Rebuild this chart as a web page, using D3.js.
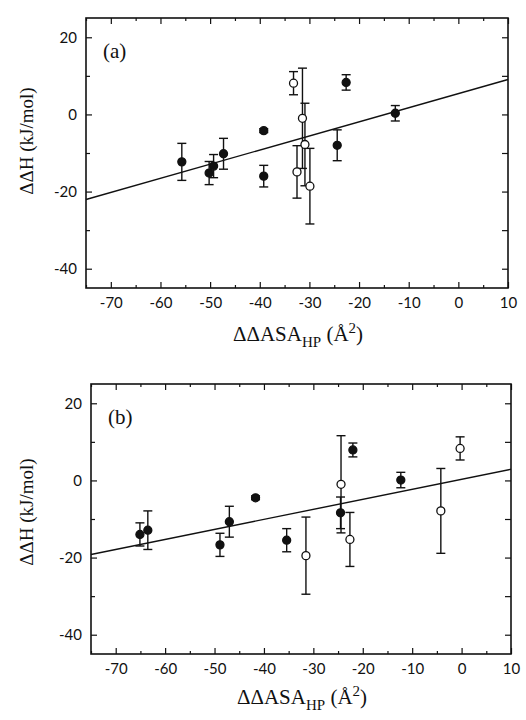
<!DOCTYPE html>
<html>
<head>
<meta charset="utf-8">
<script src="https://cdn.jsdelivr.net/npm/d3@7"></script>
<style>
  html, body { margin: 0; padding: 0; background: #fff; }
  svg { display: block; }
  .tick text { font-family: Lato, "Open Sans", sans-serif; font-size: 15px; fill: #111; }
  .title { font-family: "Liberation Serif", "DejaVu Serif", serif; font-size: 19px; fill: #111; }
</style>
</head>
<body>
<svg id="chart" width="526" height="720"></svg>
<script>
// Axis ticks (shared by both panels)
const xMajorTicks = [-70, -60, -50, -40, -30, -20, -10, 0, 10];
const xMinorTicks = [-75, -65, -55, -45, -35, -25, -15, -5, 5];
const yMajorTicks = [20, 0, -20, -40];
const yMinorTicks = [10, -10, -30];
const xDomain = [-75, 10];
const yDomain = [-45, 25];

// Panel (a): filled symbols
const aFilledX   = [-55.7, -50.2, -49.3, -47.3, -39.2, -39.2, -24.4, -22.6, -12.7];
const aFilledY   = [-12.3, -15.2, -13.4, -10.2,  -4.2, -16.0,  -8.0,   8.3,   0.3];
const aFilledErr = [  4.8,   3.0,   3.0,   4.0,   0.5,   2.8,   4.0,   2.0,   2.0];
// Panel (a): open symbols
const aOpenX   = [-33.2, -32.5, -31.4, -30.9, -29.9];
const aOpenY   = [  8.1, -14.9,  -1.0,  -7.8, -18.6];
const aOpenErr = [  3.0,   6.8,  13.0,  10.7,   9.8];
// Panel (a): linear fit [slope, intercept]
const aFit = [0.366, 5.4];

// Panel (b): filled symbols
const bFilledX   = [-65.1, -63.5, -48.9, -47.0, -41.7, -35.4, -24.5, -22.0, -12.3];
const bFilledY   = [-14.0, -12.9, -16.7, -10.7,  -4.5, -15.5,  -8.4,   7.9,   0.1];
const bFilledErr = [  3.0,   5.0,   3.0,   4.0,   0.5,   3.0,   4.1,   1.8,   2.0];
// Panel (b): open symbols
const bOpenX   = [-31.5, -24.4, -22.6, -4.2, -0.3];
const bOpenY   = [-19.5,  -1.0, -15.3, -7.9,  8.3];
const bOpenErr = [ 10.0,  12.6,   7.0, 11.0,  3.0];
// Panel (b): linear fit [slope, intercept]
const bFit = [0.26, 0.3];

const svg = d3.select("#chart");

function zip(xs, ys, es) { return xs.map((x, i) => ({x, y: ys[i], e: es[i]})); }

function drawPanel(opts) {
  const {left, right, top, bottom, label, filled, open, fit, titleY, xTitleBase} = opts;
  const x = d3.scaleLinear().domain(xDomain).range([left, right]);
  const y = d3.scaleLinear().domain(yDomain).range([bottom, top]);
  const g = svg.append("g");

  // inward ticks on all four sides
  const axes = [
    {ax: d3.axisBottom(x).tickValues(xMajorTicks).tickSize(-6), t: `translate(0,${bottom})`, lab: true},
    {ax: d3.axisBottom(x).tickValues(xMinorTicks).tickSize(-3), t: `translate(0,${bottom})`},
    {ax: d3.axisTop(x).tickValues(xMajorTicks).tickSize(-6), t: `translate(0,${top})`},
    {ax: d3.axisTop(x).tickValues(xMinorTicks).tickSize(-3), t: `translate(0,${top})`},
    {ax: d3.axisLeft(y).tickValues(yMajorTicks).tickSize(-6), t: `translate(${left},0)`, lab: true},
    {ax: d3.axisLeft(y).tickValues(yMinorTicks).tickSize(-4), t: `translate(${left},0)`},
    {ax: d3.axisRight(y).tickValues(yMajorTicks.concat(yMinorTicks)).tickSize(-6), t: `translate(${right},0)`}
  ];
  axes.forEach(a => {
    const ag = g.append("g").attr("transform", a.t).call(a.ax.tickPadding(a.lab ? 9 : 0));
    ag.select(".domain").remove();
    ag.selectAll(".tick line").attr("stroke", "#111").attr("stroke-width", 1.2);
    if (!a.lab) ag.selectAll(".tick text").remove();
    else ag.selectAll(".tick text").text(d => d < 0 ? "-" + Math.abs(d) : d);
  });

  // frame
  g.append("rect")
    .attr("x", left).attr("y", top)
    .attr("width", right - left).attr("height", bottom - top)
    .attr("fill", "none").attr("stroke", "#111").attr("stroke-width", 1.6);

  // regression line across the full x range
  g.append("line")
    .attr("x1", x(xDomain[0])).attr("y1", y(fit[0] * xDomain[0] + fit[1]))
    .attr("x2", x(xDomain[1])).attr("y2", y(fit[0] * xDomain[1] + fit[1]))
    .attr("stroke", "#111").attr("stroke-width", 1.4);

  const all = filled.map(d => ({...d, open: false})).concat(open.map(d => ({...d, open: true})));

  // error bars
  const eb = g.append("g").attr("stroke", "#111").attr("stroke-width", 1.4);
  all.forEach(d => {
    const cx = x(d.x), y1 = y(d.y + d.e), y2 = y(d.y - d.e);
    eb.append("line").attr("x1", cx).attr("x2", cx).attr("y1", y1).attr("y2", y2);
    eb.append("line").attr("x1", cx - 4.5).attr("x2", cx + 4.5).attr("y1", y1).attr("y2", y1);
    eb.append("line").attr("x1", cx - 4.5).attr("x2", cx + 4.5).attr("y1", y2).attr("y2", y2);
  });

  // symbols
  g.append("g").selectAll("circle").data(all).join("circle")
    .attr("cx", d => x(d.x)).attr("cy", d => y(d.y)).attr("r", 4)
    .attr("fill", d => d.open ? "#fff" : "#111")
    .attr("stroke", "#111").attr("stroke-width", 1.3);

  // panel tag
  g.append("text").attr("class", "title")
    .attr("x", left + 17).attr("y", top + 40)
    .style("font-size", "21px").text(label);

  // y title
  g.append("text").attr("class", "title")
    .attr("transform", `translate(33,${titleY}) rotate(-90)`)
    .attr("text-anchor", "middle").text("ΔΔH (kJ/mol)");

  // x title with subscript and superscript
  const xt = g.append("text").attr("class", "title")
    .attr("x", (left + right) / 2 + 1).attr("y", xTitleBase)
    .attr("text-anchor", "middle").style("font-size", "21px");
  xt.append("tspan").text("ΔΔASA");
  xt.append("tspan").attr("dy", 6).style("font-size", "15px").text("HP");
  xt.append("tspan").attr("dy", -6).text(" (Å");
  xt.append("tspan").attr("dy", -8).style("font-size", "15px").text("2");
  xt.append("tspan").attr("dy", 8).text(")");
}

drawPanel({
  left: 86, right: 508, top: 18, bottom: 288, label: "(a)",
  filled: zip(aFilledX, aFilledY, aFilledErr),
  open: zip(aOpenX, aOpenY, aOpenErr),
  fit: aFit, titleY: 141, xTitleBase: 341
});

drawPanel({
  left: 91, right: 511, top: 384, bottom: 654, label: "(b)",
  filled: zip(bFilledX, bFilledY, bFilledErr),
  open: zip(bOpenX, bOpenY, bOpenErr),
  fit: bFit, titleY: 512, xTitleBase: 704
});
</script>
</body>
</html>
